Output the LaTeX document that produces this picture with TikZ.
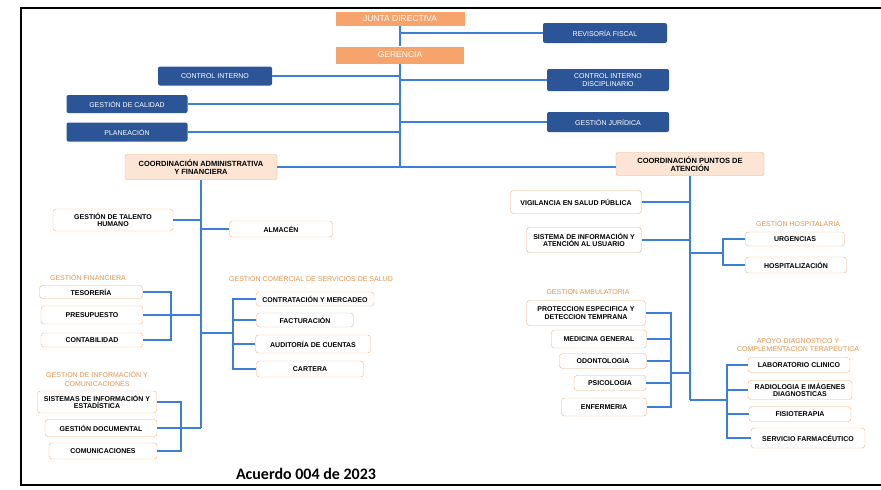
\documentclass[tikz,border=0pt]{standalone}
\usepackage{fontspec}
\setmainfont{Liberation Sans}
\newfontfamily\acuerdofont{Carlito}
\usepackage{tikz}
\definecolor{naranja}{HTML}{F6A36C}
\definecolor{azulosc}{HTML}{2B5597}
\definecolor{azullin}{HTML}{3C7FD8}
\definecolor{melocoton}{HTML}{FCE5D4}
\definecolor{bordecoord}{HTML}{F0AE80}
\definecolor{bordeunid}{HTML}{F0B27C}
\definecolor{textoetq}{HTML}{E0934E}
\tikzset{
  orgnode/.style = {align=center, inner sep=0.5pt, text centered},
  org_dir/.style = {orgnode, rectangle, fill=naranja, text=white,
    font=\fontsize{8.5}{9}\selectfont},% direccion, naranja
  org_staff/.style = {orgnode, rectangle, rounded corners=2pt, fill=azulosc,
    text=white, font=\fontsize{7}{8}\selectfont},% staff, azul
  org_coord/.style = {orgnode, rectangle, rounded corners=2pt, fill=melocoton,
    draw=bordecoord, font=\bfseries\fontsize{7.5}{8.5}\selectfont},% coordinacion
  org_unit/.style = {orgnode, rectangle, rounded corners=3pt, fill=white,
    draw=bordeunid, font=\bfseries\fontsize{7}{7.8}\selectfont},% unidad
  org_label/.style = {orgnode, text=textoetq, font=\fontsize{7}{8.5}\selectfont},% titulo de grupo
  org_acuerdo/.style = {font=\acuerdofont\bfseries\fontsize{16}{18}\selectfont},
  link/.style = {draw=azullin, line width=1.2pt},
  sz/.style 2 args = {minimum width=#1pt, minimum height=#2pt}
}
\begin{document}
\begin{tikzpicture}[x=1pt,y=-1pt]
\useasboundingbox (0,0) rectangle (881,490);
\draw[line width=1.6pt] (881,8) -- (21,8) -- (21,485) -- (881,485);

% direccion y staff
\node [org_dir, sz={129}{14}] (junta) at (400,19) {JUNTA DIRECTIVA};
\node [org_dir, sz={128}{17}] (geren) at (400,55) {GERENCIA};
\node [org_staff, sz={124}{20}] (revis) at (605,33) {REVISORÍA FISCAL};
\node [org_staff, sz={114}{19}] (cint) at (215,76) {CONTROL INTERNO};
\node [org_staff, sz={122}{22}] (cidis) at (608,80) {CONTROL INTERNO\\DISCIPLINARIO};
\node [org_staff, sz={121}{18}] (calid) at (127,104) {GESTIÓN DE CALIDAD};
\node [org_staff, sz={122}{20}] (jurid) at (608,122) {GESTIÓN JURÍDICA};
\node [org_staff, sz={121}{19}] (plane) at (127,132) {PLANEACIÓN};
\node [org_coord, sz={152}{25}] (cadm) at (201,167) {COORDINACIÓN ADMINISTRATIVA\\Y FINANCIERA};
\node [org_coord, sz={148}{23}] (cpat) at (690,164) {COORDINACIÓN PUNTOS DE\\ATENCIÓN};

\draw[link] (junta) -- (geren);
\draw[link] (geren.south) -- (geren.south |- cadm.east);
\draw[link] (revis.west) -- (revis.west -| junta.south);
\draw[link] (cint.east) -- (cint.east -| geren.south);
\draw[link] (cidis.west) -- (cidis.west -| geren.south);
\draw[link] (calid.east) -- (calid.east -| geren.south);
\draw[link] (jurid.west) -- (jurid.west -| geren.south);
\draw[link] (plane.east) -- (plane.east -| geren.south);
\draw[link] (cadm.east) -- (cpat.west |- cadm.east);

% coordinacion administrativa y financiera
\node [org_unit, sz={120}{22}] (talen) at (113,220) {GESTIÓN DE TALENTO\\HUMANO};
\node [org_unit, sz={103}{16}] (almac) at (281,229) {ALMACÉN};
\node [org_label] (l_fin) at (88,277) {GESTIÓN FINANCIERA};
\node [org_unit, sz={103}{13}] (tesor) at (91,292) {TESORERÍA};
\node [org_unit, sz={102}{18}] (presu) at (92,315) {PRESUPUESTO};
\node [org_unit, sz={102}{14}] (conta) at (92,340) {CONTABILIDAD};
\node [org_label] (l_com) at (311,278) {GESTIÓN COMERCIAL DE SERVICIOS DE SALUD};
\node [org_unit, sz={118}{14}] (contr) at (315,299) {CONTRATACIÓN Y MERCADEO};
\node [org_unit, sz={97}{14}] (factu) at (305,320) {FACTURACIÓN};
\node [org_unit, sz={115}{18}] (audit) at (313,344) {AUDITORÍA DE CUENTAS};
\node [org_unit, sz={107}{16}] (carte) at (310,369) {CARTERA};
\node [org_label] (l_inf) at (97,379) {GESTION DE INFORMACIÓN Y\\COMUNICACIONES};
\node [org_unit, sz={119}{22}] (siste) at (97,402) {SISTEMAS DE INFORMACIÓN Y\\ESTADÍSTICA};
\node [org_unit, sz={112}{17}] (gdocu) at (101,428) {GESTIÓN DOCUMENTAL};
\node [org_unit, sz={108}{16}] (comun) at (103,451) {COMUNICACIONES};
\coordinate (fin_bus) at (171,315);
\coordinate (com_bus) at (233,333);
\coordinate (inf_bus) at (181,428);

\draw[link] (cadm.south) -- (cadm.south |- gdocu.east);
\draw[link] (talen.east) -- (talen.east -| cadm.south);
\draw[link] (almac.west) -- (almac.west -| cadm.south);
\draw[link] (tesor.east) -| (fin_bus) |- (conta.east);
\draw[link] (presu.east) -- (presu.east -| cadm.south);
\draw[link] (com_bus -| cadm.south) -- (com_bus);
\draw[link] (contr.west) -| (com_bus) |- (carte.west);
\draw[link] (factu.west) -- (factu.west -| com_bus);
\draw[link] (audit.west) -- (audit.west -| com_bus);
\draw[link] (siste.east) -| (inf_bus) |- (comun.east);
\draw[link] (gdocu.east) -- (gdocu.east -| cadm.south);

% coordinacion puntos de atencion
\node [org_unit, sz={131}{23}] (vigil) at (576,202) {VIGILANCIA EN SALUD PÚBLICA};
\node [org_unit, sz={115}{25}] (siau) at (584,240) {SISTEMA DE INFORMACIÓN Y\\ATENCIÓN AL USUARIO};
\node [org_label] (l_hos) at (798,223) {GESTIÓN HOSPITALARIA};
\node [org_unit, sz={99}{14}] (urgen) at (795,239) {URGENCIAS};
\node [org_unit, sz={101}{16}] (hospi) at (796,265) {HOSPITALIZACIÓN};
\node [org_label] (l_amb) at (588,292) {GESTION AMBULATORIA};
\node [org_unit, sz={119}{25}] (prote) at (586,313) {PROTECCION ESPECIFICA Y\\DETECCION TEMPRANA};
\node [org_unit, sz={95}{18}] (medic) at (599,339) {MEDICINA GENERAL};
\node [org_unit, sz={87}{15}] (odont) at (603,361) {ODONTOLOGIA};
\node [org_unit, sz={72}{15}] (psico) at (610,383) {PSICOLOGIA};
\node [org_unit, sz={85}{18}] (enfer) at (604,407) {ENFERMERIA};
\node [org_label] (l_apo) at (798,345) {APOYO DIAGNOSTICO Y\\COMPLEMENTACION TERAPEUTICA};
\node [org_unit, sz={102}{15}] (labor) at (799,365) {LABORATORIO CLINICO};
\node [org_unit, sz={104}{19}] (radio) at (800,390) {RADIOLOGIA E IMÁGENES\\DIAGNOSTICAS};
\node [org_unit, sz={102}{15}] (fisio) at (800,414) {FISIOTERAPIA};
\node [org_unit, sz={114}{20}] (farma) at (808,438) {SERVICIO FARMACÉUTICO};
\coordinate (hos_bus) at (723,253);
\coordinate (amb_bus) at (671,373);
\coordinate (apo_bus) at (727,400);

\draw[link] (cpat.south) -- (cpat.south |- apo_bus);
\draw[link] (vigil.east) -- (vigil.east -| cpat.south);
\draw[link] (siau.east) -- (siau.east -| cpat.south);
\draw[link] (hos_bus -| cpat.south) -- (hos_bus);
\draw[link] (urgen.west) -| (hos_bus) |- (hospi.west);
\draw[link] (amb_bus) -- (amb_bus -| cpat.south);
\draw[link] (prote.east) -| (amb_bus) |- (enfer.east);
\draw[link] (medic.east) -- (medic.east -| amb_bus);
\draw[link] (odont.east) -- (odont.east -| amb_bus);
\draw[link] (psico.east) -- (psico.east -| amb_bus);
\draw[link] (apo_bus -| cpat.south) -- (apo_bus);
\draw[link] (labor.west) -| (apo_bus) |- (farma.west);
\draw[link] (radio.west) -- (radio.west -| apo_bus);
\draw[link] (fisio.west) -- (fisio.west -| apo_bus);

\node [org_acuerdo] (acuerdo) at (306,474) {Acuerdo 004 de 2023};
\end{tikzpicture}
\end{document}
